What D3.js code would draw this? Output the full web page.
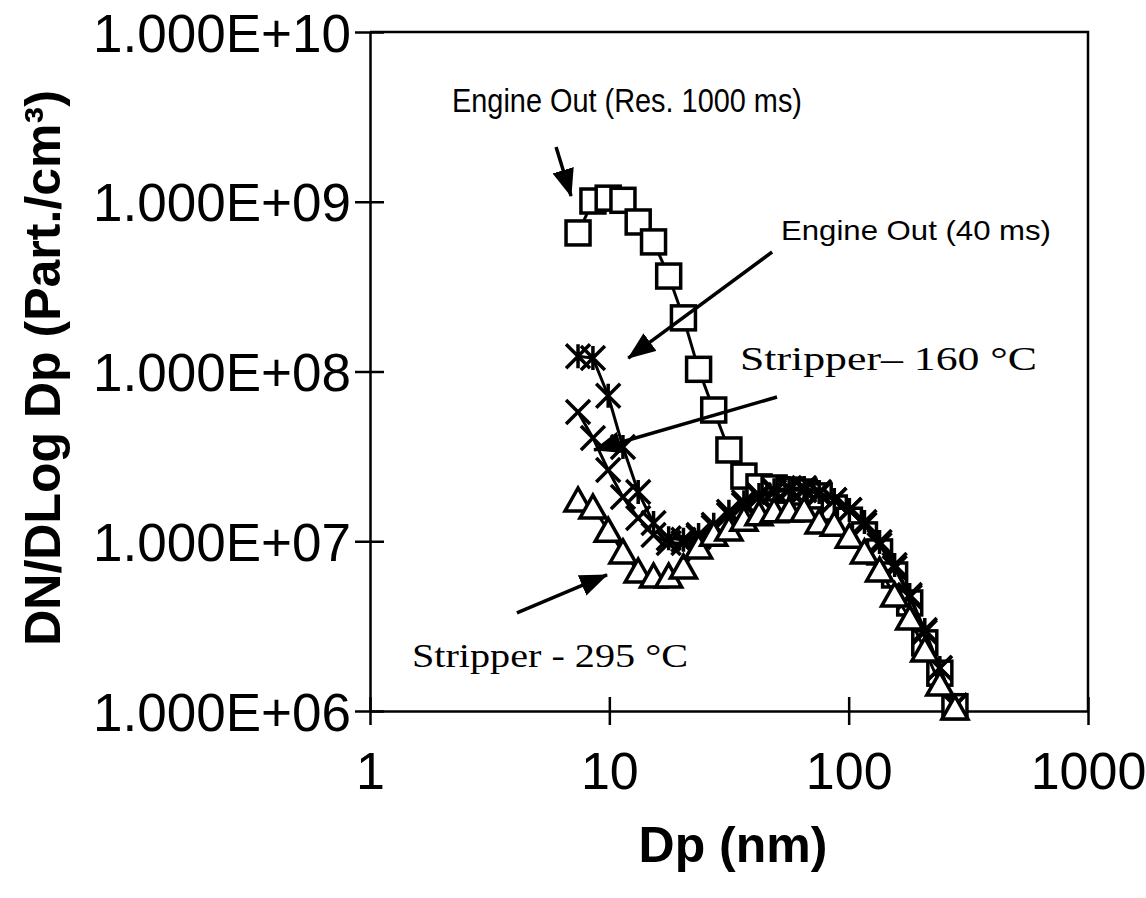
<!DOCTYPE html>
<html>
<head>
<meta charset="utf-8">
<script src="https://cdn.jsdelivr.net/npm/d3@7/dist/d3.min.js"></script>
<style>
  html, body { margin: 0; padding: 0; background: #fff; }
  svg { display: block; }
</style>
</head>
<body>
<svg id="chart" width="1146" height="898"></svg>
<script>
// Particle size bins (nm), shared by all four size distributions
const dp = [7.4, 8.54, 9.89, 11.4, 13.2, 15.3, 17.7, 20.4, 23.6, 27.3, 31.6, 36.5, 42.2,
            48.8, 56.4, 65.2, 75.3, 87.1, 100.7, 116.4, 134.6, 155.6, 179.9, 208.0, 240.4, 278.0];

// DN/DLog Dp (particles/cm³)
const engineOut1000 = [6.55e8, 1.01e9, 1.05e9, 1.02e9, 7.6e8, 5.8e8, 3.65e8, 2.07e8, 1.03e8, 5.93e7,
                       3.45e7, 2.42e7, 2.09e7, 2.06e7, 2.0e7, 1.95e7, 1.85e7, 1.57e7, 1.33e7, 1.09e7,
                       8.65e6, 6.33e6, 4.33e6, 2.52e6, 1.67e6, 1.06e6];
const engineOut40 = [1.23e8, 1.2e8, 7.2e7, 3.59e7, 1.95e7, 1.28e7, 1.04e7, 1.02e7, 1.09e7, 1.25e7,
                     1.49e7, 1.70e7, 1.87e7, 2.0e7, 2.06e7, 2.06e7, 1.95e7, 1.75e7, 1.53e7, 1.30e7,
                     9.9e6, 7.24e6, 4.82e6, 3.0e6, 1.79e6, 1.08e6];
const stripper160 = [5.77e7, 4.06e7, 2.63e7, 1.82e7, 1.37e7, 1.09e7, 9.77e6, 9.77e6, 1.06e7, 1.21e7,
                     1.43e7, 1.64e7, 1.82e7, 1.95e7, 2.0e7, 2.0e7, 1.90e7, 1.75e7, 1.53e7, 1.25e7,
                     9.5e6, 6.96e6, 4.69e6, 2.92e6, 1.79e6, 1.07e6];
const stripper295 = [1.75e7, 1.59e7, 1.16e7, 8.65e6, 6.68e6, 6.24e6, 6.24e6, 7.05e6, 9.25e6, 1.10e7,
                     1.18e7, 1.35e7, 1.45e7, 1.51e7, 1.53e7, 1.53e7, 1.30e7, 1.26e7, 1.07e7, 8.65e6,
                     6.77e6, 4.82e6, 3.53e6, 2.29e6, 1.44e6, 1.04e6];

const xTicks = [1, 10, 100, 1000];
const yTicks = [1e6, 1e7, 1e8, 1e9, 1e10];

// Callout texts with arrow start / arrow tip in data units
const notes = [
  { text: "Engine Out (Res. 1000 ms)", font: "sans", size: 33, tx: 452, ty: 100, len: 350, from: [5.99, 2.1e9], to: [6.92, 1.08e9] },
  { text: "Engine Out (40 ms)", font: "sans", size: 28, tx: 781, ty: 230, len: 270, from: [47.9, 5.06e8], to: [12.0, 1.2e8] },
  { text: "Stripper\u2013 160 \u00B0C", font: "serif", size: 34, tx: 740, ty: 358, len: 297, from: [50.2, 7.08e7], to: [8.63, 3.45e7] },
  { text: "Stripper - 295 \u00B0C", font: "serif", size: 34, tx: 412, ty: 655, len: 276, from: [4.11, 3.78e6], to: [9.78, 6.33e6] }
];

const svg = d3.select("#chart");
const plotL = 370, plotR = 1088, plotT = 32, plotB = 711;

const x = d3.scaleLog().domain([1, 1000]).range([plotL, plotR]);
const y = d3.scaleLog().domain([1e6, 1e10]).range([plotB, plotT]);

const SANS = "'Liberation Sans', Arial, Helvetica, sans-serif";
const SERIF = "'Liberation Serif', 'Times New Roman', serif";

// Plot frame (top and right edges)
svg.append("path")
  .attr("d", `M${plotL},${plotT}H${plotR}V${plotB}`)
  .attr("fill", "none").attr("stroke", "#000").attr("stroke-width", 2.5);

// Y axis: outward ticks with labels, plus short inward ticks
const fmtY = d => "1.000E+" + String(Math.round(Math.log10(d))).padStart(2, "0");
const gy = svg.append("g").attr("transform", `translate(${plotL},0)`)
  .call(d3.axisLeft(y).tickValues(yTicks).tickFormat(fmtY).tickSize(15).tickSizeOuter(0).tickPadding(4));
svg.append("g").attr("transform", `translate(${plotL},0)`)
  .call(d3.axisLeft(y).tickValues(yTicks).tickFormat("").tickSize(-14))
  .select(".domain").remove();

// X axis
const gx = svg.append("g").attr("transform", `translate(0,${plotB})`)
  .call(d3.axisBottom(x).tickValues(xTicks).tickFormat(d3.format("d")).tickSize(14).tickSizeOuter(0).tickPadding(27));
svg.append("g").attr("transform", `translate(0,${plotB})`)
  .call(d3.axisBottom(x).tickValues(xTicks).tickFormat("").tickSize(-14))
  .select(".domain").remove();

svg.selectAll(".domain, .tick line").attr("stroke", "#000").attr("stroke-width", 2.5);

gy.selectAll(".tick text")
  .attr("font-family", SANS).attr("font-size", 53).attr("fill", "#000").attr("dy", "0.36em");
gx.selectAll(".tick text")
  .attr("font-family", SANS).attr("font-size", 52).attr("fill", "#000");

// Axis titles
svg.append("text")
  .attr("x", 733).attr("y", 862)
  .attr("text-anchor", "middle")
  .attr("font-family", SANS).attr("font-weight", "bold").attr("font-size", 50)
  .text("Dp (nm)");
svg.append("text")
  .attr("transform", "translate(60,368) rotate(-90)")
  .attr("text-anchor", "middle")
  .attr("font-family", SANS).attr("font-weight", "bold").attr("font-size", 50)
  .text("DN/DLog Dp (Part./cm\u00B3)");

// Marker shapes
const S = 12; // half-size of markers
const shapes = {
  square: g => g.append("rect").attr("x", -S).attr("y", -S).attr("width", 2 * S).attr("height", 2 * S)
                .attr("fill", "#fff"),
  star: g => g.append("path").attr("d", `M${-S},${-S}L${S},${S}M${-S},${S}L${S},${-S}M0,${-S}V${S}`)
              .attr("fill", "none"),
  cross: g => g.append("path").attr("d", `M${-S},${-S}L${S},${S}M${-S},${S}L${S},${-S}`)
               .attr("fill", "none"),
  triangle: g => g.append("path").attr("d", `M0,${-S}L${S + 1},${S - 1}L${-S - 1},${S - 1}Z`)
                  .attr("fill", "#fff")
};

const series = [
  { name: "Engine Out (Res. 1000 ms)", values: engineOut1000, shape: "square" },
  { name: "Engine Out (40 ms)", values: engineOut40, shape: "star" },
  { name: "Stripper 160 °C", values: stripper160, shape: "cross" },
  { name: "Stripper 295 °C", values: stripper295, shape: "triangle" }
];

const line = d3.line().x(d => x(d[0])).y(d => y(d[1]));

series.forEach(s => {
  const pts = dp.map((d, i) => [d, s.values[i]]);
  const g = svg.append("g");
  g.append("path").attr("d", line(pts))
    .attr("fill", "none").attr("stroke", "#000").attr("stroke-width", 3);
  g.selectAll("g.m").data(pts).join("g").attr("class", "m")
    .attr("transform", d => `translate(${x(d[0])},${y(d[1])})`)
    .each(function () {
      shapes[s.shape](d3.select(this));
    })
    .selectAll("*").attr("stroke", "#000").attr("stroke-width", 3.5).attr("stroke-linejoin", "miter");
});

// Arrowhead
svg.append("defs").append("marker")
  .attr("id", "head").attr("markerUnits", "userSpaceOnUse")
  .attr("viewBox", "0 0 28 22").attr("refX", 27).attr("refY", 11)
  .attr("markerWidth", 28).attr("markerHeight", 22).attr("orient", "auto")
  .append("path").attr("d", "M0,0L28,11L0,22Z").attr("fill", "#000");

// Callouts
notes.forEach(n => {
  svg.append("line")
    .attr("x1", x(n.from[0])).attr("y1", y(n.from[1]))
    .attr("x2", x(n.to[0])).attr("y2", y(n.to[1]))
    .attr("stroke", "#000").attr("stroke-width", 3.5)
    .attr("marker-end", "url(#head)");
  svg.append("text")
    .attr("x", n.tx).attr("y", n.ty).attr("dy", "0.35em")
    .attr("font-family", n.font === "serif" ? SERIF : SANS)
    .attr("font-size", n.size)
    .attr("textLength", n.len).attr("lengthAdjust", "spacingAndGlyphs")
    .text(n.text);
});
</script>
</body>
</html>
